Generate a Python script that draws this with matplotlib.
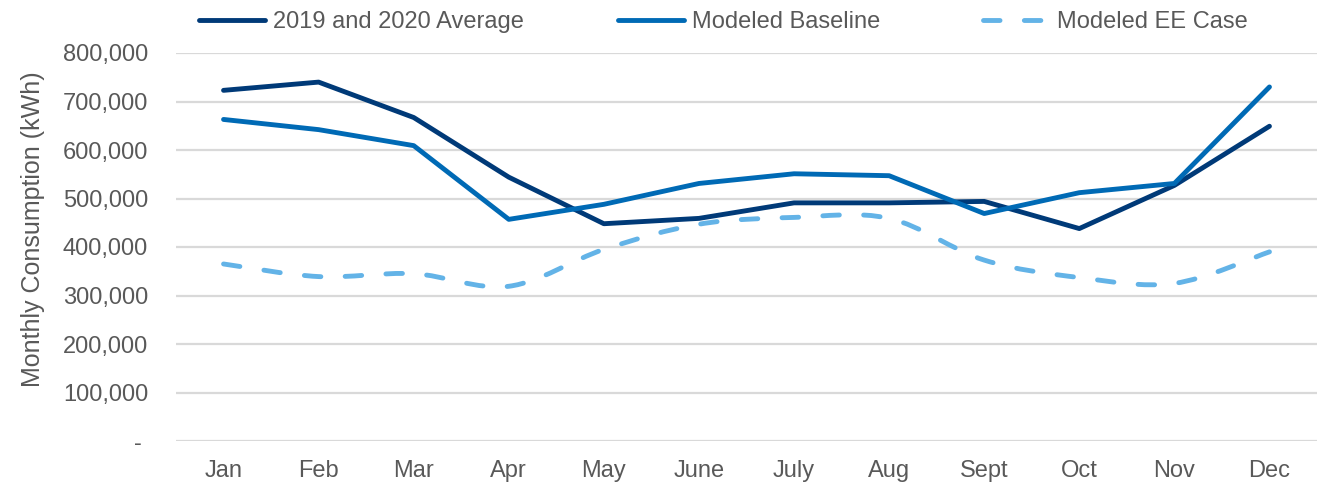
import numpy as np
import matplotlib
matplotlib.use("Agg")
import matplotlib.pyplot as plt
from matplotlib.path import Path
from matplotlib.patches import PathPatch
from matplotlib.lines import Line2D
from matplotlib.ticker import FuncFormatter, MultipleLocator

# Data (kWh per month)
months = ["Jan", "Feb", "Mar", "Apr", "May", "June",
          "July", "Aug", "Sept", "Oct", "Nov", "Dec"]
avg_2019_2020 = [723000, 740000, 667000, 544000, 448000, 459000,
                 491000, 491000, 494000, 438000, 527000, 649000]
modeled_baseline = [663000, 642000, 609000, 457000, 488000, 531000,
                    551000, 547000, 469000, 512000, 531000, 730000]
modeled_ee = [365000, 339000, 345000, 319000, 395000, 447000,
              461000, 459000, 373000, 337000, 325000, 390000]

# Colors
dark_navy = "#003A78"
mid_blue = "#006AB5"
light_blue = "#63B3E7"
text_gray = "#595959"
grid_gray = "#D9D9D9"

plt.rcParams["font.family"] = ["Liberation Sans", "DejaVu Sans"]
fs = 17


def smooth_path(xs, ys):
    # Excel-style smoothed line: Catmull-Rom segments as cubic Beziers
    pts = np.column_stack([xs, ys]).astype(float)
    n = len(pts)
    verts = [pts[0]]
    codes = [Path.MOVETO]
    for i in range(n - 1):
        p0 = pts[i - 1] if i > 0 else pts[i]
        p1 = pts[i]
        p2 = pts[i + 1]
        p3 = pts[i + 2] if i + 2 < n else pts[i + 1]
        c1 = p1 + (p2 - p0) / 6.0
        c2 = p2 - (p3 - p1) / 6.0
        verts += [c1, c2, p2]
        codes += [Path.CURVE4] * 3
    return Path(verts, codes)


fig = plt.figure(figsize=(13.17, 4.83), dpi=100)
ax = fig.add_axes([176 / 1317, 42 / 483, 1141 / 1317, 388 / 483])

x = np.arange(len(months))
lw = 3.5

ax.plot(x, avg_2019_2020, color=dark_navy, lw=lw,
        solid_capstyle="round", solid_joinstyle="round", zorder=3)
ax.plot(x, modeled_baseline, color=mid_blue, lw=lw,
        solid_capstyle="round", solid_joinstyle="round", zorder=3)

dash = (0, (3.4, 5.0))
ee_patch = PathPatch(smooth_path(x, modeled_ee), fill=False,
                     edgecolor=light_blue, lw=lw, linestyle=dash,
                     capstyle="round", joinstyle="round", zorder=2)
ax.add_patch(ee_patch)

# Axes styling
ax.set_xlim(-0.5, len(months) - 0.5)
ax.set_ylim(0, 800000)
ax.yaxis.set_major_locator(MultipleLocator(100000))
ax.yaxis.set_major_formatter(
    FuncFormatter(lambda v, p: "- " if v == 0 else f"{v:,.0f}"))
ax.set_xticks(x)
ax.set_xticklabels(months)
ax.tick_params(axis="both", length=0, colors=text_gray, labelsize=fs)
ax.tick_params(axis="y", pad=20)
ax.tick_params(axis="x", pad=14)
ax.grid(axis="y", color=grid_gray, lw=1.6, zorder=0)
ax.set_axisbelow(True)
for side in ax.spines:
    ax.spines[side].set_visible(False)

ax.set_ylabel("Monthly Consumption (kWh)", color=text_gray,
              fontsize=18, labelpad=13)
ax.yaxis.label.set_y(0.546)

# Legend at the top, one entry per position
handles = [
    Line2D([], [], color=dark_navy, lw=lw, solid_capstyle="round"),
    Line2D([], [], color=mid_blue, lw=lw, solid_capstyle="round"),
    Line2D([], [], color=light_blue, lw=lw, linestyle=dash,
           dash_capstyle="round"),
]
labels = ["2019 and 2020 Average", "Modeled Baseline", "Modeled EE Case"]
legend_x = [199, 618, 983]
for h, lab, lx in zip(handles, labels, legend_x):
    leg = fig.legend([h], [lab], loc="center left",
                     bbox_to_anchor=(lx / 1317, 1 - 22 / 483),
                     frameon=False, fontsize=fs, handlelength=2.8,
                     handletextpad=0.35, borderpad=0, borderaxespad=0)
    for t in leg.get_texts():
        t.set_color(text_gray)

fig.savefig("out.png", dpi=100)
